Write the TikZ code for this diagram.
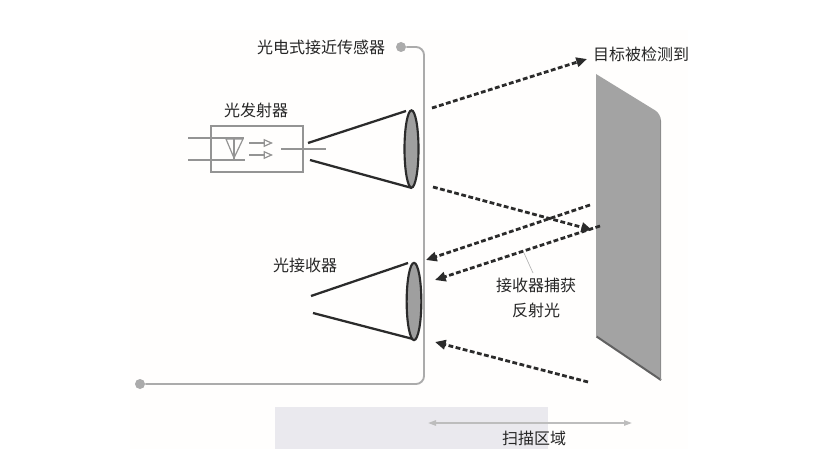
\documentclass[tikz,border=0pt]{standalone}
\usepackage{fontspec}
\setmainfont{Noto Sans CJK SC}
\usetikzlibrary{arrows.meta,shapes.geometric}
\definecolor{housing}{HTML}{ABABAB}
\definecolor{ink}{HTML}{2B2B2B}
\definecolor{lensgray}{HTML}{9F9F9F}
\definecolor{panelgray}{HTML}{A3A3A3}
\definecolor{paleband}{HTML}{EAE9EE}
\definecolor{paper}{HTML}{FFFEFD}
\definecolor{scanline}{HTML}{BDBDBD}
\tikzset{
  x=0.75pt,y=-0.75pt,
  lbl/.style={inner sep=0pt,font=\fontsize{12pt}{14pt}\selectfont,text=black!85},
  cone/.style={draw=ink,line width=1.7pt},
  lens/.style={ellipse,draw=ink,line width=1.6pt,fill=lensgray,inner sep=0pt},
  ray/.style={draw=ink,line width=2.1pt,dash pattern=on 3.6pt off 1.9pt,-{Triangle[length=8pt,width=7pt]}},
  housingline/.style={draw=housing,line width=1.4pt,rounded corners=6pt},
  pin/.style={circle,fill=housing,inner sep=0pt,minimum size=7.5pt},
  schem/.style={draw=black!42,line width=0.9pt},
  openhead/.style={-{Triangle[open,length=7pt,width=6pt]}},
  scan/.style={draw=scanline,line width=1.2pt,{Triangle[length=6pt,width=4pt]}-{Triangle[length=6pt,width=4pt]}},
}
\begin{document}
\begin{tikzpicture}
\useasboundingbox (0,0) rectangle (820,449);
\fill[white] (0,0) rectangle (820,449);
\fill[paper] (130,30) rectangle (688,449);
\fill[paleband] (275,407) rectangle (548,449);
% housing
\node[pin] (pinA) at (401,47) {};
\node[pin] (pinB) at (140,384) {};
\draw[housingline] (pinA) -- (424,47) -- (424,384) -- (pinB);
% target panel
\fill[panelgray] (596,74) [rounded corners=5pt] -- (661,114) [sharp corners] -- (661,380) -- (596,336) -- cycle;
\draw[draw=black!62,line width=1.5pt] (596.5,336.5) -- (661,380);
\draw[draw=black!45,line width=0.8pt] (660.8,120) -- (660.8,380);
% emitter schematic
\node[schem,draw,minimum width=69pt,minimum height=34.5pt,inner sep=0pt] (emit) at (257,149) {};
\coordinate (wA1) at (188,138); \coordinate (wA2) at (244,138);
\coordinate (wB1) at (188,160); \coordinate (wB2) at (245,160);
\coordinate (dA) at (226,139); \coordinate (dB) at (243,139); \coordinate (dC) at (234,158);
\coordinate (dT) at (234,139); \coordinate (dD) at (234,160);
\coordinate (aA1) at (249,143); \coordinate (aA2) at (273,143);
\coordinate (aB1) at (249,155); \coordinate (aB2) at (273,155);
\coordinate (oA) at (281,149); \coordinate (oB) at (326,149);
\draw[schem] (wA1) -- (wA2);
\draw[schem] (wB1) -- (wB2);
\draw[schem] (dA) -- (dB) -- (dC) -- cycle;
\draw[schem] (dT) -- (dD);
\draw[schem,openhead] (aA1) -- (aA2);
\draw[schem,openhead] (aB1) -- (aB2);
\draw[schem] (oA) -- (oB);
% emitter cone
\coordinate (c1a) at (308,143);
\coordinate (c1b) at (310,160);
\coordinate (c1c) at (406,111);
\coordinate (c1d) at (412,188);
\draw[cone] (c1a) -- (c1c);
\draw[cone] (c1b) -- (c1d);
\node[lens,minimum width=10.5pt,minimum height=58pt] (lensA) at (411.5,149) {};
% receiver cone
\coordinate (c2a) at (311,296);
\coordinate (c2b) at (313,313);
\coordinate (c2c) at (408,263);
\coordinate (c2d) at (413,339);
\draw[cone] (c2a) -- (c2c);
\draw[cone] (c2b) -- (c2d);
\node[lens,minimum width=11pt,minimum height=58pt] (lensB) at (414,301.5) {};
% rays
\coordinate (r1a) at (432,108); \coordinate (r1b) at (587,59);
\coordinate (r2a) at (433,187); \coordinate (r2b) at (592,230);
\coordinate (r3a) at (590,205); \coordinate (r3b) at (426,260);
\coordinate (r4a) at (600,226); \coordinate (r4b) at (435,280);
\coordinate (r5a) at (588,382); \coordinate (r5b) at (435,342);
\draw[ray] (r1a) -- (r1b);
\draw[ray] (r2a) -- (r2b);
\draw[ray] (r3a) -- (r3b);
\draw[ray] (r4a) -- (r4b);
\draw[ray] (r5a) -- (r5b);
% labels
\node[lbl] (tSensor) at (321,47) {光电式接近传感器};
\node[lbl] (tTarget) at (641,54) {目标被检测到};
\node[lbl] (tEmit) at (256,110) {光发射器};
\node[lbl] (tRecv) at (305,265) {光接收器};
\node[lbl] (tCatch) at (536,285) {接收器捕获};
\node[lbl] (tRefl) at (536,310) {反射光};
\coordinate (leadA) at (524,253);
\coordinate (leadB) at (533,273);
\draw[draw=black!30,line width=0.5pt] (leadA) -- (leadB);
% scan
\coordinate (sA) at (428,423); \coordinate (sB) at (632,423);
\draw[scan] (sA) -- (sB);
\node[lbl] (tScan) at (534,438) {扫描区域};
\end{tikzpicture}
\end{document}
